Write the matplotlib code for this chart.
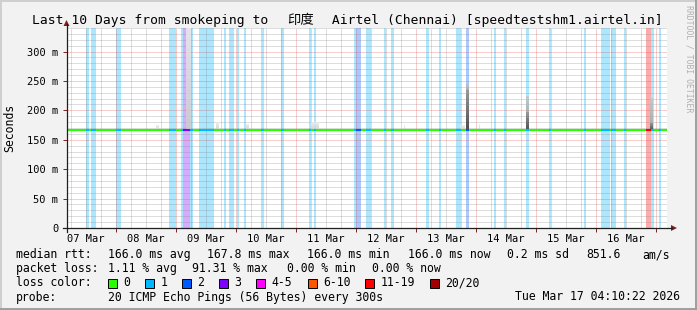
import matplotlib
matplotlib.use("Agg")
import matplotlib.pyplot as plt
from matplotlib.patches import Rectangle, Polygon

W, H, DPI = 697, 310, 100

# ---------------- data ----------------
title_left = "Last 10 Days from smokeping to "
title_mid = "\u5370\u5ea6"
title_right = " Airtel (Chennai) [speedtestshm1.airtel.in]"
span_hours = 240.0                 # 10 days, start = 2026-03-07 04:10:22
first_midnight_h = 19.827          # 08 Mar 00:00 as hours after start
day_labels = ["07 Mar", "08 Mar", "09 Mar", "10 Mar", "11 Mar",
              "12 Mar", "13 Mar", "14 Mar", "15 Mar", "16 Mar"]
y_ticks = [0, 50, 100, 150, 200, 250, 300]
y_tick_labels = ["0", "50 m", "100 m", "150 m", "200 m", "250 m", "300 m"]
y_max_ms = 340.0

median_rtt_ms = 166.0

# loss events (hours after start), number of lost pings out of 20
loss_start_h = [7.7, 9.7, 19.7, 40.9, 45.7, 46.5, 49.3, 52.9, 62.9, 64.9, 68.1,
                70.9, 77.7, 85.7, 96.9, 98.9, 114.9, 115.7, 119.7, 126.9, 129.7,
                143.7, 148.9, 155.7, 159.7, 170.9, 174.9, 183.7, 192.9, 206.9,
                213.7, 217.7, 222.9, 231.7, 233.7, 236.9]
loss_end_h = [8.9, 11.7, 21.7, 43.7, 46.5, 49.3, 50.5, 58.9, 63.7, 66.9, 68.9,
              71.7, 78.9, 86.9, 97.7, 99.7, 115.7, 117.7, 121.7, 127.7, 130.9,
              144.9, 149.7, 157.7, 160.9, 171.7, 175.7, 184.9, 193.7, 207.7,
              217.3, 219.7, 223.7, 233.7, 234.9, 237.7]
loss_pings = [1, 1, 1, 1, 1, 3, 1, 1, 1, 1, 1,
              1, 1, 1, 1, 1, 1, 2, 1, 1, 1,
              1, 1, 1, 2, 1, 1, 1, 1, 1,
              1, 1, 1, 18, 1, 1]

# smoke: spread of the pings above the median (dense part up to mid, sparse up to top)
smoke_start_h = [35.6, 47.6, 59.6, 71.6, 97.6, 134.8, 157.2, 159.7, 164.8, 183.7, 233.6]
smoke_end_h = [36.8, 49.6, 60.8, 72.8, 100.8, 135.6, 159.2, 160.9, 165.6, 184.9, 234.8]
smoke_mid_ms = [166, 168, 166, 166, 166, 166, 166, 235, 166, 197, 179]
smoke_top_ms = [175, 340, 180, 177, 180, 175, 175, 247, 177, 225, 221]

loss_names = ["0", "1", "2", "3", "4-5", "6-10", "11-19", "20/20"]
loss_colors = ["#26ff00", "#00b8ff", "#0059ff", "#7e00ff",
               "#ff00ff", "#ff5500", "#ff0000", "#a10000"]

legend_rtt = ["median rtt:", "166.0 ms avg", "167.8 ms max", "166.0 ms min",
              "166.0 ms now", "0.2 ms sd", "851.6", "am/s"]
legend_loss = ["packet loss:", "1.11 % avg", "91.31 % max", "0.00 % min", "0.00 % now"]
probe_text = ["probe:", "20 ICMP Echo Pings (56 Bytes) every 300s"]
timestamp = "Tue Mar 17 04:10:22 2026"


def loss_index(n):
    if n <= 3:
        return n
    if n <= 5:
        return 4
    if n <= 10:
        return 5
    if n <= 19:
        return 6
    return 7


# ---------------- figure ----------------
MONO = "DejaVu Sans Mono"
fig = plt.figure(figsize=(W / DPI, H / DPI), dpi=DPI, facecolor="#f2f2f2")

x0, x1, ytop, ybot = 66.5, 666.5, 28.0, 228.0
ax = fig.add_axes([x0 / W, (H - ybot) / H, (x1 - x0) / W, (ybot - ytop) / H])
ax.set_facecolor("white")
ax.set_xlim(0, span_hours)
ax.set_ylim(0, y_max_ms)
for s in ax.spines.values():
    s.set_visible(False)

# loss background
for a, b, n in zip(loss_start_h, loss_end_h, loss_pings):
    ax.axvspan(a, b, color=loss_colors[loss_index(n)], alpha=0.33, lw=0, zorder=1)

# grid
grid_c = (0.56, 0.56, 0.56, 0.6)
mgrid_c = (0.87, 0.31, 0.31, 0.55)
dot = (0, (1, 1))
lw = 0.72
for v in range(0, int(y_max_ms) + 1, 10):
    if v % 50:
        ax.axhline(v, color=grid_c, lw=lw, ls=dot, zorder=2)
h = first_midnight_h - 24
while h < span_hours:
    for k in (6, 12, 18):
        if 0 < h + k < span_hours:
            ax.axvline(h + k, color=grid_c, lw=lw, ls=dot, zorder=2)
    h += 24
for v in y_ticks[1:]:
    ax.axhline(v, color=mgrid_c, lw=lw, ls=dot, zorder=2)
h = first_midnight_h
while h < span_hours:
    ax.axvline(h, color=mgrid_c, lw=lw, ls=dot, zorder=2)
    h += 24

# smoke
nseg = 10
for a, b, mid, top in zip(smoke_start_h, smoke_end_h, smoke_mid_ms, smoke_top_ms):
    c, w = (a + b) / 2, b - a
    if mid > median_rtt_ms:
        step = (mid - median_rtt_ms) / nseg
        for i in range(nseg):
            f = (i + 0.5) / nseg
            g = 0.30 + 0.30 * f
            ax.bar(c, step, width=w, bottom=median_rtt_ms + i * step,
                   color=(g, g, g), lw=0, zorder=3)
    step = (top - mid) / nseg
    for i in range(nseg):
        f = (i + 0.5) / nseg
        g = (0.66 if mid > median_rtt_ms + 5 else 0.80) + 0.12 * f
        ax.bar(c, step, width=w, bottom=mid + i * step,
               color=(g, g, g), alpha=0.85, lw=0, zorder=3)

# median line coloured by loss
ax.plot([0, span_hours], [median_rtt_ms, median_rtt_ms], color=loss_colors[0],
        lw=1.5, solid_capstyle="butt", zorder=4)
for a, b, n in zip(loss_start_h, loss_end_h, loss_pings):
    ax.plot([a, b], [median_rtt_ms, median_rtt_ms], color=loss_colors[loss_index(n)],
            lw=1.5, solid_capstyle="butt", zorder=5)

# ticks
ax.set_yticks(y_ticks)
ax.set_yticklabels(y_tick_labels, fontfamily=MONO, fontsize=7.5)
label_pos = [first_midnight_h - 12 + 24 * i for i in range(len(day_labels))]
ax.set_xticks(label_pos)
ax.set_xticklabels(day_labels, fontfamily=MONO, fontsize=7.5)
ax.tick_params(axis="x", length=0, pad=4)
ax.tick_params(axis="y", length=3, width=0.7, color="#801f1f", pad=3)
mids = []
h = first_midnight_h
while h < span_hours:
    mids.append(h)
    h += 24
ax.set_xticks(mids, minor=True)
ax.tick_params(axis="x", which="minor", length=3, width=0.7, color="#801f1f", direction="out")

# ---------------- overlay (pixel coordinates) ----------------
ov = fig.add_axes([0, 0, 1, 1], facecolor="none")
ov.set_xlim(0, W)
ov.set_ylim(H, 0)
ov.axis("off")

axis_c = "#1f1f1f"
arrow_c = "#801f1f"
ov.plot([62.5, 672], [228, 228], color=axis_c, lw=0.9)
ov.plot([66.5, 66.5], [232, 24], color=axis_c, lw=0.9)
ov.add_patch(Polygon([[671, 225], [677, 228], [671, 231]], closed=True, color=arrow_c, lw=0))
ov.add_patch(Polygon([[63.5, 26], [66.5, 20], [69.5, 26]], closed=True, color=arrow_c, lw=0))

# border shading
ov.plot([0, W], [0.5, 0.5], color="#cfcfcf", lw=1.4)
ov.plot([0.5, 0.5], [0, H], color="#cfcfcf", lw=1.4)
ov.plot([0, W], [309, 309], color="#9e9e9e", lw=1.4)
ov.plot([696, 696], [0, H], color="#9e9e9e", lw=1.4)

# title (three pieces: mono text, CJK characters, mono text)
ov.text(32, 24, title_left, family=MONO, fontsize=9.4, ha="left", va="baseline")
ov.text(300.5, 24, title_mid, family=["Noto Sans CJK SC", MONO], fontsize=9.6,
        ha="center", va="baseline")
ov.text(663, 24, title_right, family=MONO, fontsize=9.4, ha="right", va="baseline")

ov.text(10, 127.5, "Seconds", family=MONO, fontsize=8.3, rotation=90, ha="center", va="center")
ov.text(689, 5, "RRDTOOL / TOBI OETIKER", family=MONO, fontsize=5.9, rotation=270,
        ha="center", va="top", color="#b0b0b0")

fs = 8.3
rtt_x = [16, 107.6, 206.7, 306.7, 408, 506.7, 586, 642.2]
for x, t in zip(rtt_x, legend_rtt):
    ov.text(x, 254.5, t, family=MONO, fontsize=fs, ha="left", va="center")
loss_x = [16, 107.6, 192.4, 286.7, 372.4]
for x, t in zip(loss_x, legend_loss):
    ov.text(x, 268.5, t, family=MONO, fontsize=fs, ha="left", va="center")
ov.text(16, 283, "loss color:", family=MONO, fontsize=fs, ha="left", va="center")
sq_x = [108, 145, 182, 219, 256, 307.6, 365, 430]
for x, name, c in zip(sq_x, loss_names, loss_colors):
    ov.add_patch(Rectangle((x, 278.5), 9, 9, facecolor=c, edgecolor="black", lw=0.7))
    ov.text(x + 15.5, 283, name, family=MONO, fontsize=fs, ha="left", va="center")
ov.text(16, 297, probe_text[0], family=MONO, fontsize=fs, ha="left", va="center")
ov.text(107.6, 297, probe_text[1], family=MONO, fontsize=fs, ha="left", va="center")
ov.text(680, 297, timestamp, family=MONO, fontsize=fs, ha="right", va="center")

fig.savefig("out.png", dpi=DPI, facecolor=fig.get_facecolor())
